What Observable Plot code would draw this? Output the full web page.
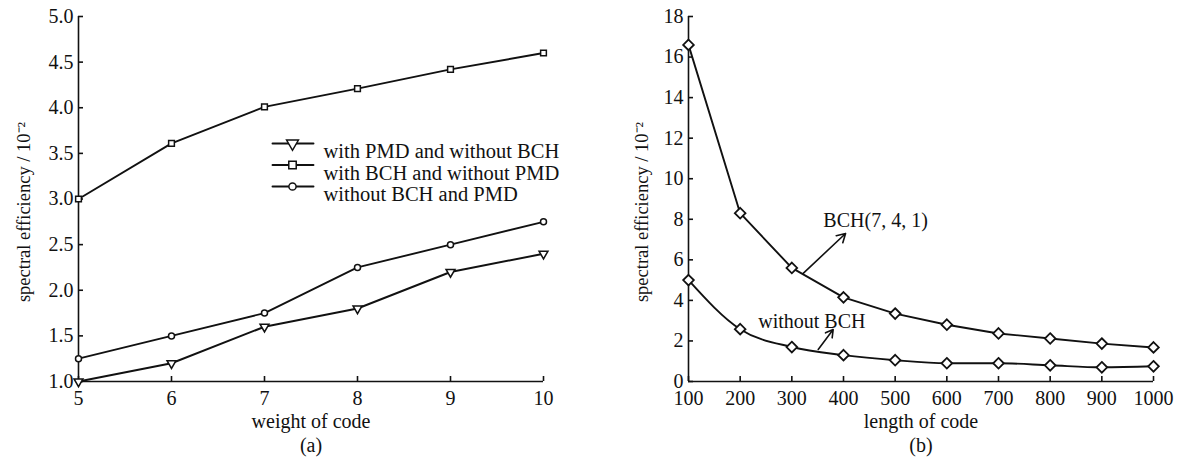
<!DOCTYPE html>
<html><head><meta charset="utf-8">
<script src="https://cdn.jsdelivr.net/npm/d3@7"></script>
<script src="https://cdn.jsdelivr.net/npm/@observablehq/plot@0.6"></script>
<style>
html,body{margin:0;padding:0;background:#fff;}
#wrap{display:flex;flex-direction:row;width:1186px;height:473px;}
</style></head>
<body><div id="wrap"></div>
<script>
// ---- Panel (a) data ----
const weights = [5, 6, 7, 8, 9, 10];
const pmdNoBch = [1.0, 1.2, 1.6, 1.8, 2.2, 2.4];
const bchNoPmd = [3.0, 3.61, 4.01, 4.21, 4.42, 4.60];
const noBchPmd = [1.25, 1.5, 1.75, 2.25, 2.5, 2.75];
const seriesA = ["with PMD and without BCH", "with BCH and without PMD", "without BCH and PMD"];
const yTicksA = [1.0, 1.5, 2.0, 2.5, 3.0, 3.5, 4.0, 4.5, 5.0];

// ---- Panel (b) data ----
const lengths = [100, 200, 300, 400, 500, 600, 700, 800, 900, 1000];
const bch741 = [16.6, 8.3, 5.6, 4.15, 3.35, 2.8, 2.37, 2.12, 1.87, 1.68];
const withoutBch = [5.0, 2.58, 1.7, 1.3, 1.05, 0.9, 0.9, 0.8, 0.7, 0.75];
const yTicksB = [0, 2, 4, 6, 8, 10, 12, 14, 16, 18];
const annotText = ["BCH(7, 4, 1)", "without BCH"];
const annotX = [361, 235];
const annotY = [7.94, 2.96];
const arrowX1 = [322, 351];
const arrowY1 = [5.33, 1.58];
const arrowX2 = [404, 380];
const arrowY2 = [7.3, 2.56];

const yLabel = "spectral efficiency / 10\u207B\u00B2";
const FONT = "Liberation Serif, Times New Roman, serif";
const style = {fontFamily: FONT, fontSize: "20px", color: "#111", background: "white", overflow: "visible"};
const SW = 1.9;
const INK = "#111";

const lineShape = {draw(ctx, l) { ctx.moveTo(0, 0); ctx.lineTo(0, -l); }};
const triDown = {draw(ctx, size) {
  const s = Math.sqrt(size / 0.433);
  const h = s * 0.866;
  ctx.moveTo(-s / 2, -h / 3);
  ctx.lineTo(s / 2, -h / 3);
  ctx.lineTo(0, 2 * h / 3);
  ctx.closePath();
}};
const symbolsA = [triDown, d3.symbolSquare, d3.symbolCircle];
const radiiA = [4.4, 4.2, 3.6];

// table for panel a
const seriesValues = [pmdNoBch, bchNoPmd, noBchPmd];
const tableA = [];
seriesValues.forEach((vals, i) => vals.forEach((v, j) => tableA.push({s: i, x: weights[j], y: v})));

const legendMarks = [];
seriesA.forEach((name, i) => {
  const dy = 127 + i * 21.5;
  legendMarks.push(Plot.vector([0], {frameAnchor: "top-left", dx: 194, dy, length: 41, rotate: 90, anchor: "start", shape: lineShape, stroke: INK, strokeWidth: SW}));
  legendMarks.push(Plot.dot([0], {frameAnchor: "top-left", dx: 214, dy, symbol: symbolsA[i], r: radiiA[i], fill: "white", stroke: INK, strokeWidth: 1.5}));
  legendMarks.push(Plot.text([name], {frameAnchor: "top-left", dx: 245, dy, text: d => d, textAnchor: "start", fill: INK, fontSize: 20.5}));
});

function axes(xt, yt, xfmt, yfmt, xlabel) {
  return [
    Plot.axisX(xt, {tickSize: 5, dy: -5, text: null, label: null, stroke: INK, strokeWidth: 1.6}),
    Plot.axisY(yt, {tickSize: 5, dx: 5, text: null, label: null, stroke: INK, strokeWidth: 1.6}),
    Plot.axisX(xt, {tickSize: 0, tickPadding: 9, tickFormat: xfmt, label: xlabel, labelAnchor: "center", labelOffset: 46, labelArrow: "none", fontSize: 20, fill: INK}),
    Plot.axisY(yt, {tickSize: 0, tickPadding: 5, tickFormat: yfmt, label: null, fontSize: 20, fill: INK})
  ];
}

const plotA = Plot.plot({
  width: 590, height: 473,
  marginLeft: 78, marginRight: 47, marginTop: 16, marginBottom: 92,
  style,
  x: {domain: [5, 10]},
  y: {domain: [1, 5]},
  marks: [
    Plot.ruleY([1], {stroke: INK, strokeWidth: 1.6}),
    Plot.ruleX([5], {stroke: INK, strokeWidth: 1.6}),
    ...axes(weights, yTicksA, d3.format("d"), d3.format(".1f"), "weight of code"),
    Plot.text([yLabel], {frameAnchor: "left", dx: -54, dy: 13, rotate: -90, textAnchor: "middle", text: d => d, fill: INK, fontSize: 18.5}),
    Plot.line(tableA, {x: "x", y: "y", z: "s", stroke: INK, strokeWidth: SW}),
    Plot.dot(tableA, {x: "x", y: "y", symbol: d => symbolsA[d.s], r: d => radiiA[d.s], fill: "white", stroke: INK, strokeWidth: 1.5}),
    ...legendMarks,
    Plot.text(["(a)"], {frameAnchor: "bottom", dy: 70, text: d => d, fill: INK, fontSize: 20})
  ]
});

// table for panel b
const tableB0 = bch741.map((v, j) => ({x: lengths[j], y: v}));
const tableB1 = withoutBch.map((v, j) => ({x: lengths[j], y: v}));
const annot = annotText.map((t, i) => ({t, x: annotX[i], y: annotY[i], x1: arrowX1[i], y1: arrowY1[i], x2: arrowX2[i], y2: arrowY2[i]}));

const plotB = Plot.plot({
  width: 596, height: 473,
  marginLeft: 98, marginRight: 33, marginTop: 16, marginBottom: 92,
  style,
  x: {domain: [100, 1000]},
  y: {domain: [0, 18]},
  marks: [
    Plot.ruleY([0], {stroke: INK, strokeWidth: 1.6}),
    Plot.ruleX([100], {stroke: INK, strokeWidth: 1.6}),
    ...axes(lengths, yTicksB, d3.format("d"), d3.format("d"), "length of code"),
    Plot.text([yLabel], {frameAnchor: "left", dx: -46, dy: 13, rotate: -90, textAnchor: "middle", text: d => d, fill: INK, fontSize: 18.5}),
    Plot.line(tableB0, {x: "x", y: "y", stroke: INK, strokeWidth: SW}),
    Plot.line(tableB1, {x: "x", y: "y", stroke: INK, strokeWidth: SW, curve: "monotone-x"}),
    Plot.dot(tableB0.concat(tableB1), {x: "x", y: "y", symbol: "diamond2", r: 4.8, fill: "white", stroke: INK, strokeWidth: 1.8}),
    Plot.arrow(annot, {x1: "x1", y1: "y1", x2: "x2", y2: "y2", stroke: INK, strokeWidth: 1.6, headLength: 9}),
    Plot.text(annot, {x: "x", y: "y", text: "t", textAnchor: "start", fill: INK, fontSize: 20}),
    Plot.text(["(b)"], {frameAnchor: "bottom", dy: 70, text: d => d, fill: INK, fontSize: 20})
  ]
});

document.getElementById("wrap").append(plotA, plotB);
</script>
</body></html>
